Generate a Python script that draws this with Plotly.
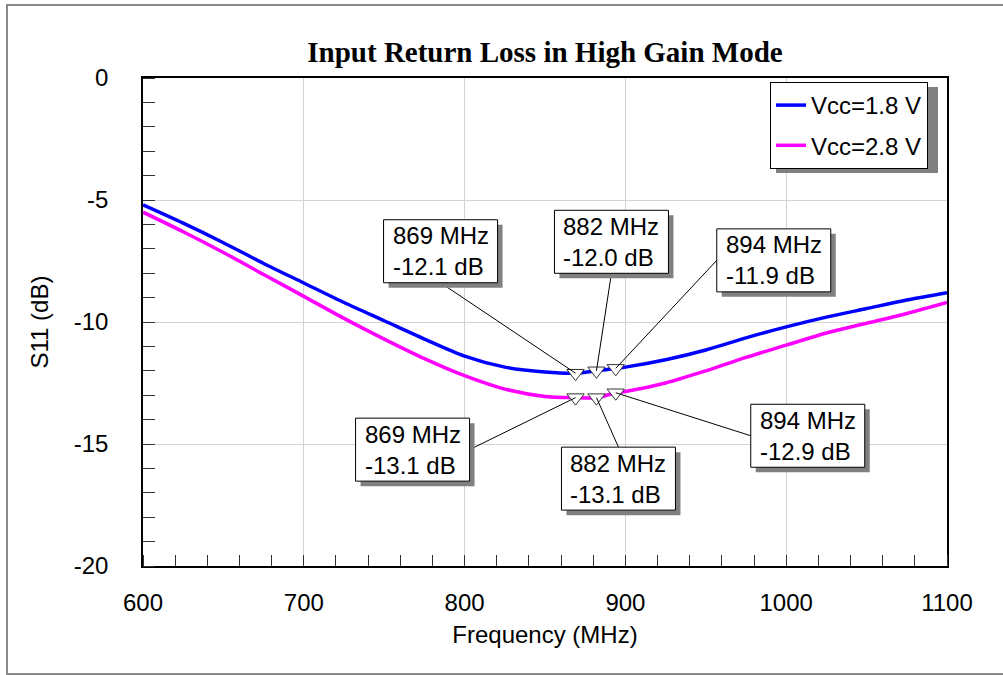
import plotly.graph_objects as go

# Frequency sweep (MHz) and measured S11 (dB) for both supply voltages
freq_mhz = [600, 625, 650, 675, 700, 725, 750, 775, 800, 825, 850, 869, 882, 894,
            900, 925, 950, 975, 1000, 1025, 1050, 1075, 1100]
s11_vcc18 = [-5.2, -5.95, -6.75, -7.6, -8.4, -9.2, -9.95, -10.7, -11.4, -11.85, -12.05,
             -12.1, -12.0, -11.9, -11.85, -11.55, -11.15, -10.65, -10.2, -9.8, -9.45, -9.1, -8.8]
s11_vcc28 = [-5.5, -6.3, -7.15, -8.05, -8.95, -9.85, -10.7, -11.5, -12.2, -12.75, -13.05,
             -13.1, -13.1, -12.9, -12.85, -12.5, -12.0, -11.45, -10.95, -10.45, -10.05, -9.65, -9.2]

# Marker readouts
mark_freq = [869, 882, 894]
mark_vcc18 = [-12.1, -12.0, -11.9]
mark_vcc28 = [-13.1, -13.1, -12.9]

# Axis ticks
x_ticks = [600, 700, 800, 900, 1000, 1100]
y_ticks = [-20, -15, -10, -5, 0]
y_tick_text = ["-20", "-15", "-10", "-5", "0"]

# Label box placement relative to its marker: (dx, dy) in px (dy up) and
# which box edge the leader line attaches to
label_pos_vcc18 = [((-135, 122), "bottom"), ((15, 129), "bottom"), ((158, 108), "left")]
label_pos_vcc28 = [((-163, -52), "right"), ((22, -81), "top"), ((192, -43), "left")]

W, H = 1003, 675
L, R, T, B = 143, 56, 78, 109
PW, PH = W - L - R, H - T - B
BOX_W, BOX_H, SHADOW = 114, 63, 5

BLUE = "#0000ff"
MAGENTA = "#ff00ff"
FONT = "Liberation Sans, Arial, sans-serif"


def px_x(p):
    return (p - L) / PW


def px_y(p):
    return (H - B - p) / PH


fig = go.Figure()

fig.add_trace(go.Scatter(x=freq_mhz, y=s11_vcc18, mode="lines", name="Vcc=1.8 V",
                         line=dict(color=BLUE, width=3.5, shape="spline", smoothing=0.8),
                         legendgroup="a"))
fig.add_trace(go.Scatter(x=freq_mhz, y=s11_vcc28, mode="lines", name="Vcc=2.8 V",
                         line=dict(color=MAGENTA, width=3.5, shape="spline", smoothing=0.8),
                         legendgroup="b"))

for ys in (mark_vcc18, mark_vcc28):
    fig.add_trace(go.Scatter(x=mark_freq, y=ys, mode="markers", showlegend=False,
                             marker=dict(symbol="triangle-down", size=15, color="white",
                                         line=dict(color="#333333", width=1))))

shapes = [
    # outer frame
    dict(type="rect", xref="paper", yref="paper", x0=px_x(7), x1=px_x(1010),
         y0=px_y(674), y1=px_y(5), line=dict(color="#8a8a8a", width=2), layer="below"),
    # legend shadow
    dict(type="rect", xref="paper", yref="paper", x0=px_x(776), x1=px_x(938),
         y0=px_y(173), y1=px_y(87), fillcolor="#808080", line=dict(width=0), layer="above"),
]
annotations = []

hw, hh = BOX_W / 2, BOX_H / 2
edge_pt = {"bottom": (0, -hh), "top": (0, hh), "left": (-hw, 0), "right": (hw, 0)}

for ys, placements in ((mark_vcc18, label_pos_vcc18), (mark_vcc28, label_pos_vcc28)):
    for f, v, ((dx, dy), edge) in zip(mark_freq, ys, placements):
        ex, ey = edge_pt[edge]
        common = dict(xref="x", yref="y", xsizemode="pixel", ysizemode="pixel",
                      xanchor=f, yanchor=v)
        # leader line from the marker to the label box
        shapes.append(dict(type="line", x0=0, y0=0, x1=dx + ex, y1=dy + ey,
                           line=dict(color="black", width=1), layer="above", **common))
        # drop shadow
        shapes.append(dict(type="rect", x0=dx - hw + SHADOW, x1=dx + hw + SHADOW,
                           y0=dy - hh - SHADOW, y1=dy + hh - SHADOW,
                           fillcolor="#808080", line=dict(width=0), layer="above", **common))
        # label box
        shapes.append(dict(type="rect", x0=dx - hw, x1=dx + hw, y0=dy - hh, y1=dy + hh,
                           fillcolor="white", line=dict(color="black", width=1),
                           layer="above", **common))
        annotations.append(dict(x=f, y=v, xref="x", yref="y", xshift=dx, yshift=dy,
                                text=f"{f} MHz<br>{v:.1f} dB", showarrow=False,
                                xanchor="center", yanchor="middle", align="left",
                                font=dict(family=FONT, size=24, color="black")))

fig.update_layout(
    width=W, height=H,
    margin=dict(l=L, r=R, t=T, b=B),
    paper_bgcolor="white", plot_bgcolor="white",
    title=dict(text="<b>Input Return Loss in High Gain Mode</b>",
               font=dict(family="Liberation Serif, Times New Roman, serif", size=29, color="black"),
               x=545 / W, xanchor="center", y=1 - 52 / H, yanchor="middle"),
    font=dict(family=FONT, size=24, color="black"),
    showlegend=True,
    legend=dict(x=px_x(770), y=px_y(82), xanchor="left", yanchor="top",
                bgcolor="white", bordercolor="black", borderwidth=1,
                font=dict(family=FONT, size=24, color="black"),
                traceorder="grouped", tracegroupgap=6, itemwidth=30),
    annotations=annotations,
    shapes=shapes,
)

fig.update_xaxes(
    range=[600, 1100], tickvals=x_ticks, ticktext=[str(t) for t in x_ticks],
    showgrid=True, gridcolor="#d3d3d3", gridwidth=1,
    showline=True, mirror=True, linecolor="black", linewidth=1.5,
    ticks="", ticklabelstandoff=14,
    minor=dict(dtick=20, ticks="inside", ticklen=11, tickcolor="#333333", showgrid=False),
    tickfont=dict(family=FONT, size=24),
    title=dict(text="Frequency (MHz)", font=dict(family=FONT, size=24), standoff=12),
    zeroline=False,
)
fig.update_yaxes(
    range=[-20, 0], tickvals=y_ticks, ticktext=y_tick_text,
    showgrid=True, gridcolor="#d3d3d3", gridwidth=1,
    showline=True, mirror=True, linecolor="black", linewidth=1.5,
    ticks="", ticklabelstandoff=28,
    minor=dict(dtick=1, ticks="inside", ticklen=12, tickcolor="#333333", showgrid=False),
    tickfont=dict(family=FONT, size=24),
    title=dict(text="S11 (dB)", font=dict(family=FONT, size=24), standoff=18),
    zeroline=False,
)

fig.write_html("out.html")
